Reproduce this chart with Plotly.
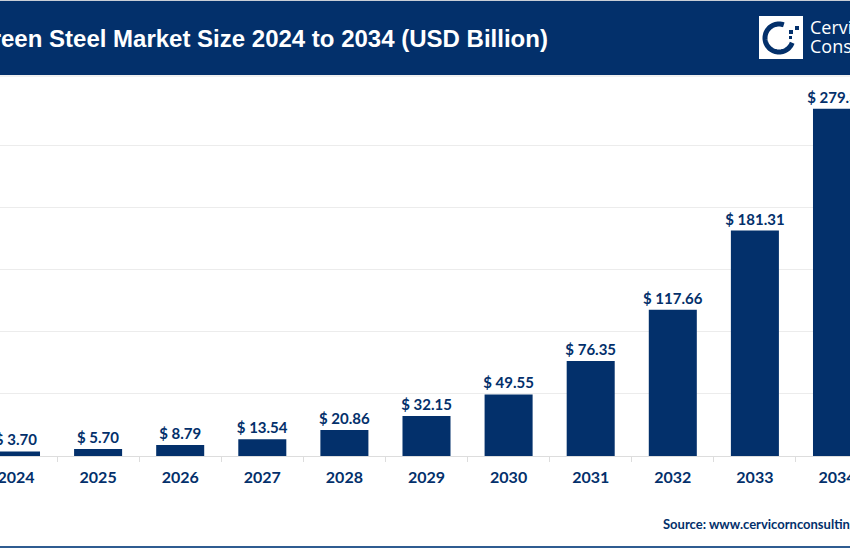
import math
import plotly.graph_objects as go

years = ['2024', '2025', '2026', '2027', '2028', '2029', '2030', '2031', '2032', '2033', '2034']
market_size = [3.70, 5.70, 8.79, 13.54, 20.86, 32.15, 49.55, 76.35, 117.66, 181.31, 279.30]
grid_ticks = [0, 50, 100, 150, 200, 250, 300]

NAVY = '#03306b'
W, H = 850, 550


# pixel position in the window -> paper coordinates
def px(x):
    return x / W


def py(y):
    return 1 - y / H


def rect(x0, y0, x1, y1, color, layer='below'):
    return dict(type='rect', xref='paper', yref='paper', x0=px(x0), x1=px(x1), y0=py(y0), y1=py(y1),
                fillcolor=color, line_width=0, layer=layer)


def note(text, x, y, size, anchor='left', color=NAVY, family='Lato', bold=True):
    label = f'<b>{text}</b>' if bold else text
    return dict(text=label, xref='paper', yref='paper', x=px(x), y=py(y), xanchor=anchor, yanchor='middle',
                showarrow=False, font=dict(size=size, color=color, family=family))


fig = go.Figure()
fig.add_trace(go.Bar(
    x=years,
    y=market_size,
    width=0.585,
    marker=dict(color=NAVY, line_width=0),
    text=[f'$ {v:.2f}' for v in market_size],
    textposition='outside',
    constraintext='none',
    cliponaxis=False,
    textfont=dict(size=15, color=NAVY, family='Lato', weight='bold'),
))

# logo: the ring of the C, drawn as a polyline
ring = [(779 + 14 * math.cos(math.radians(a)), 38 - 14 * math.sin(math.radians(a))) for a in range(70, 345, 5)]
ring_path = 'M ' + ' L '.join(f'{px(x):.5f},{py(y):.5f}' for x, y in ring)

shapes = [
    rect(0, 0, 850, 75, NAVY),
    rect(0, 0, 850, 1, '#c9ced6'),
    rect(0, 75, 850, 77, '#f0f0f0'),
    rect(0, 546, 850, 548, '#2f5c91'),
    rect(759, 16, 803, 59, 'white', 'above'),
    dict(type='path', xref='paper', yref='paper', path=ring_path, line=dict(color=NAVY, width=5), layer='above'),
    rect(789, 30, 793, 34, NAVY, 'above'),
    rect(795, 26, 799, 30, NAVY, 'above'),
    rect(789, 36, 792, 39, NAVY, 'above'),
]

fig.update_layout(
    width=W,
    height=H,
    margin=dict(l=0, r=0, t=0, b=0),
    paper_bgcolor='white',
    plot_bgcolor='white',
    showlegend=False,
    shapes=shapes,
    annotations=[
        note('Green Steel Market Size 2024 to 2034 (USD Billion)', 550, 38, 24, 'right', 'white', 'Liberation Sans'),
        note('Cervicorn', 808, 27, 18, color='white', family='Open Sans', bold=False),
        note('Consulting', 808, 46, 18, color='white', family='Open Sans', bold=False),
        note('Source: www.cervicornconsulting.com', 661, 524, 13),
    ],
    xaxis=dict(
        type='category',
        automargin=False,
        range=[-16 / 82.1, (850 - 16) / 82.1],
        tickson='boundaries',
        ticks='outside',
        ticklen=5,
        tickcolor='#dddddd',
        showline=True,
        linecolor='#dddddd',
        linewidth=1,
        showgrid=False,
        ticklabelstandoff=7,
        tickfont=dict(size=16, color=NAVY, family='Lato', weight='bold'),
    ),
    yaxis=dict(
        automargin=False,
        domain=[1 - 456 / H, 1 - 83 / H],
        range=[0, 300],
        tickvals=grid_ticks,
        showticklabels=False,
        showgrid=True,
        gridcolor='#ececec',
        gridwidth=1,
        zeroline=False,
    ),
)

fig.write_html(
    "out.html",
    config=dict(displayModeBar=False),
    post_script="document.body.style.margin='0';document.body.style.overflow='hidden';",
)
